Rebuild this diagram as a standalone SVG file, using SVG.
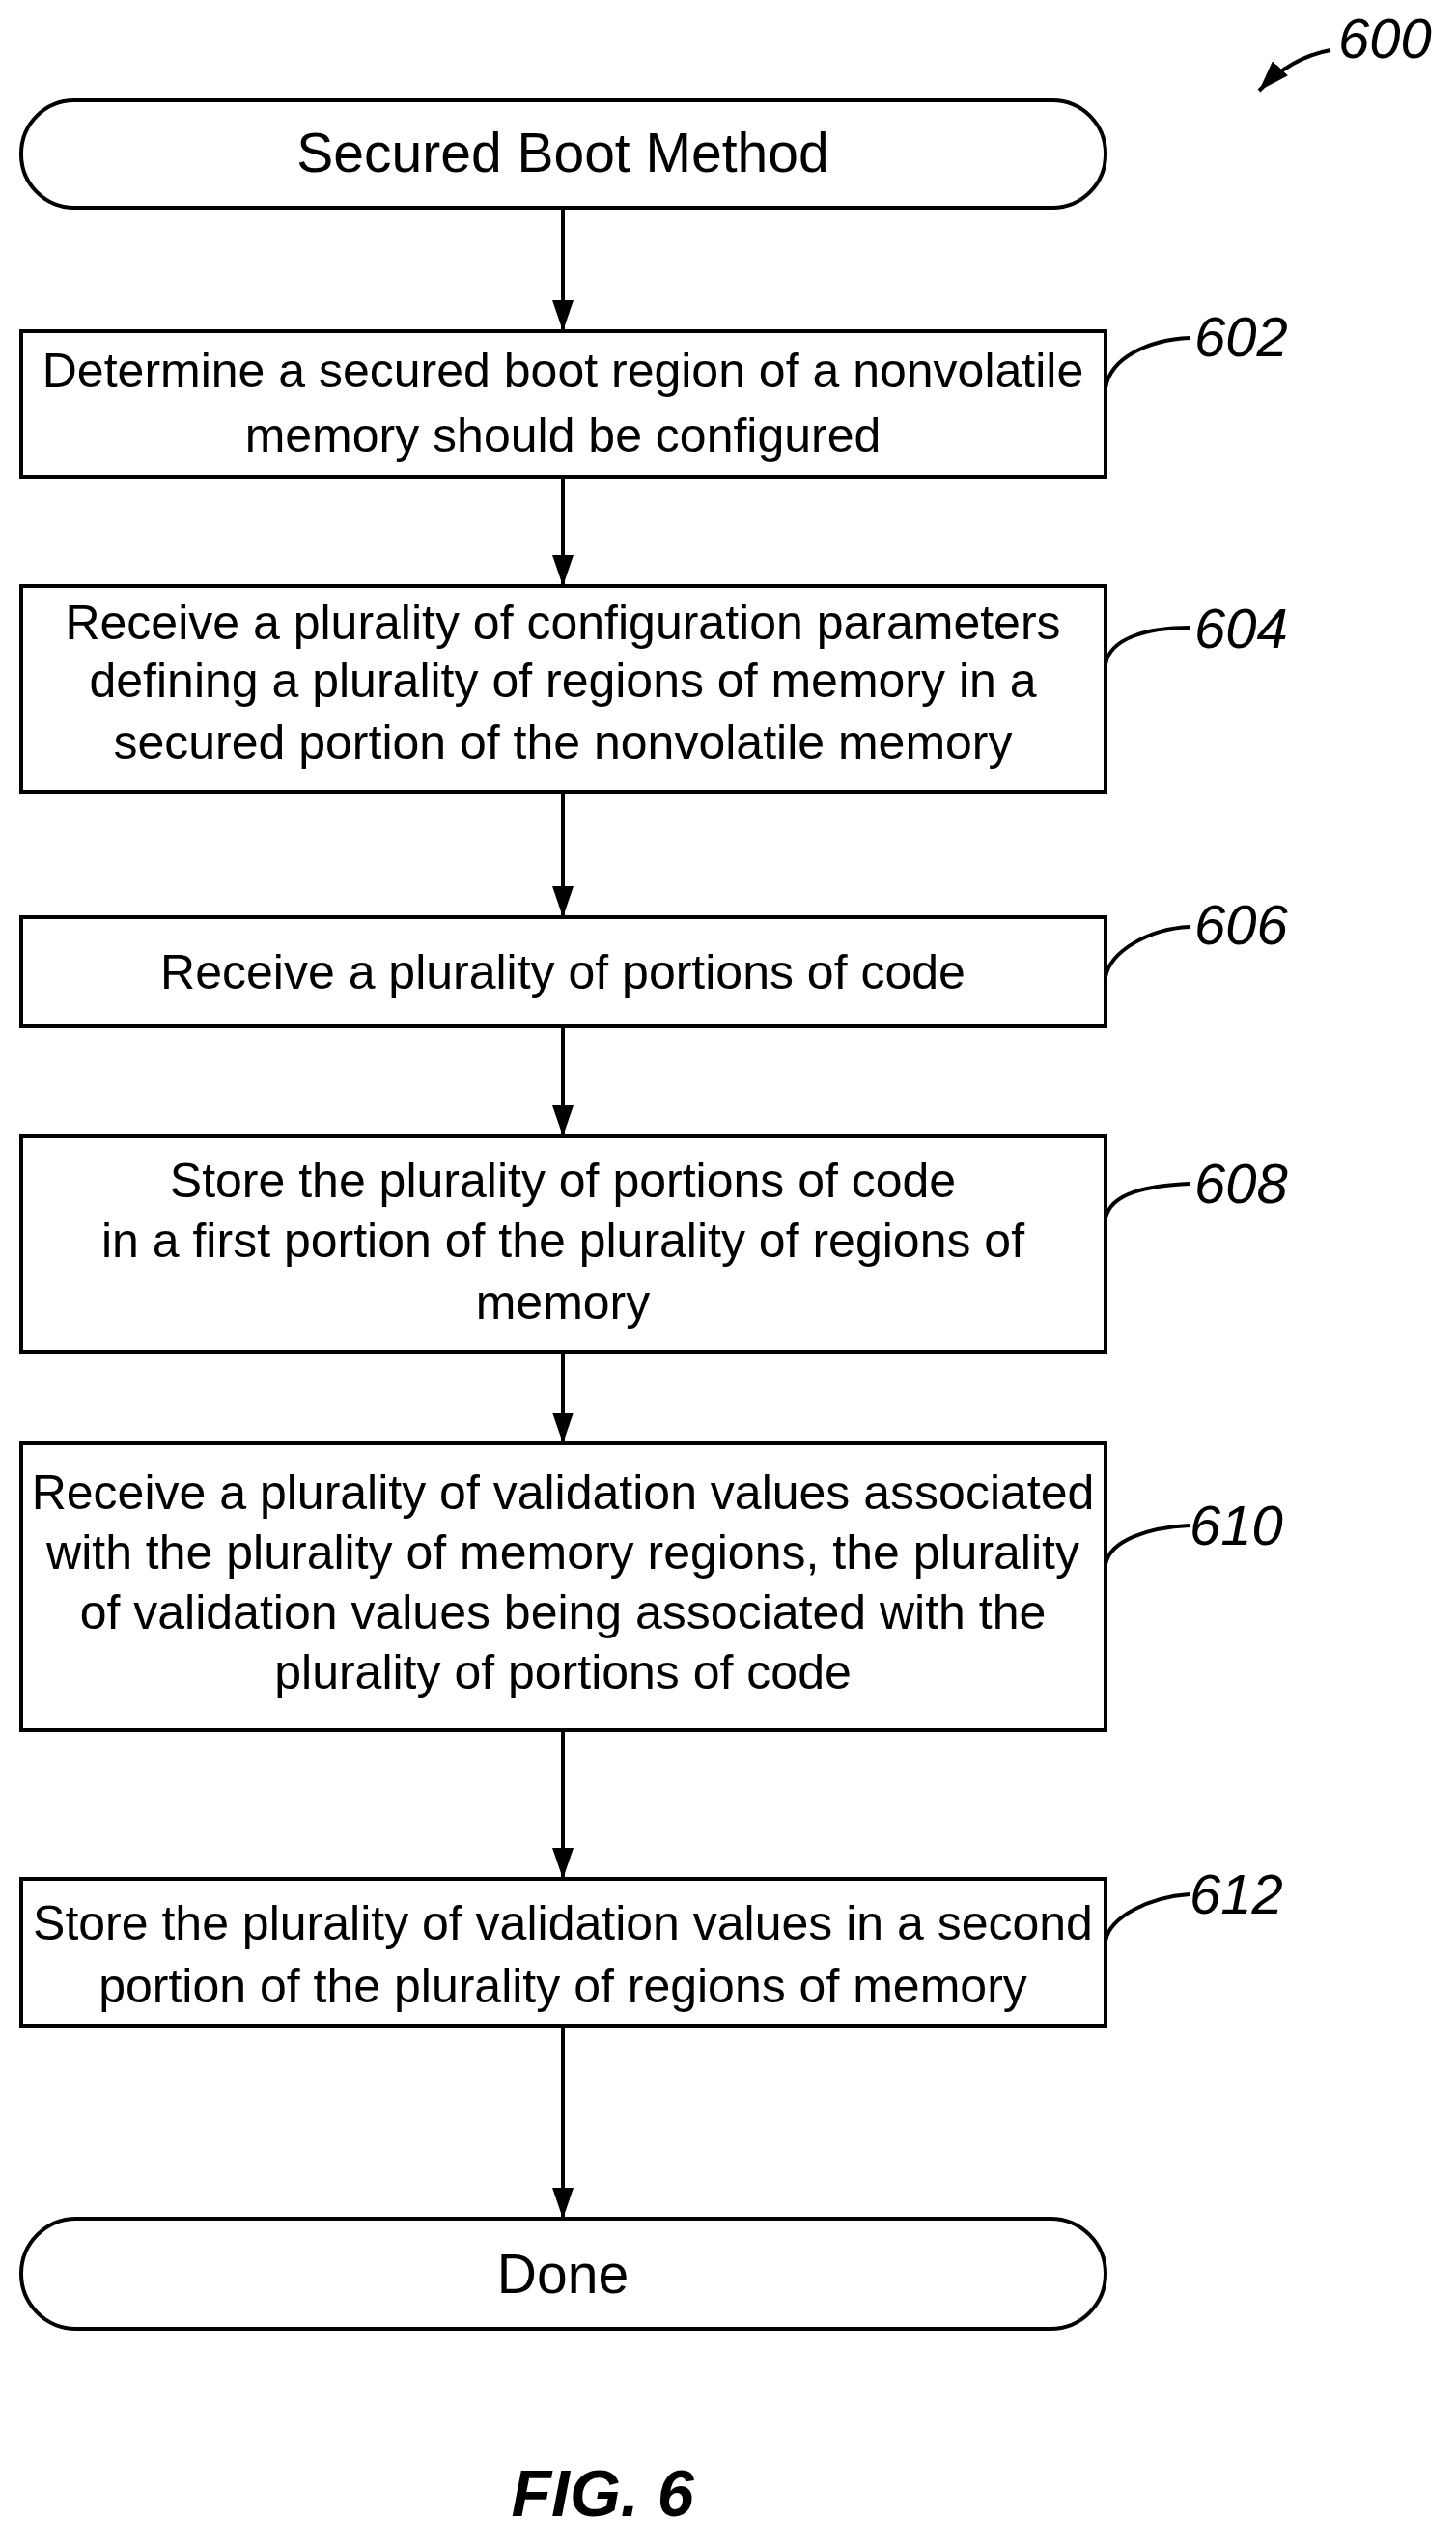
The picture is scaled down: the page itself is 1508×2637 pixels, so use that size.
<svg xmlns="http://www.w3.org/2000/svg" width="1508" height="2637" viewBox="0 0 1508 2637">
<style>
.b{fill:#fff;stroke:#000;stroke-width:4}
.t{font-family:"Liberation Sans",Arial,sans-serif;font-size:50px;text-anchor:middle;fill:#000}
.big{font-size:57px}
.l{font-family:"Liberation Sans",Arial,sans-serif;font-size:58px;font-style:italic;fill:#000}
.c{fill:none;stroke:#000;stroke-width:4}
</style>
<defs>
<marker id="h" viewBox="0 0 10 10" refX="10" refY="5" markerWidth="32" markerHeight="22" orient="auto" markerUnits="userSpaceOnUse" preserveAspectRatio="none"><path d="M0,0 L10,5 L0,10 Z" fill="#000"/></marker></defs>
<g id="connectors">
<path class="c" d="M583,215 V343" marker-end="url(#h)"/>
<path class="c" d="M583,494 V607" marker-end="url(#h)"/>
<path class="c" d="M583,820 V950" marker-end="url(#h)"/>
<path class="c" d="M583,1063 V1177" marker-end="url(#h)"/>
<path class="c" d="M583,1400 V1495" marker-end="url(#h)"/>
<path class="c" d="M583,1792 V1946" marker-end="url(#h)"/>
<path class="c" d="M583,2098 V2298" marker-end="url(#h)"/>
<path class="c" d="M1145,402 C1150,370 1190,352 1232,350"/>
<path class="c" d="M1145,688 C1150,660 1190,650 1232,650"/>
<path class="c" d="M1145,1012 C1150,985 1190,962 1232,960"/>
<path class="c" d="M1145,1262 C1150,1235 1190,1228 1232,1226"/>
<path class="c" d="M1145,1620 C1150,1595 1190,1582 1232,1580"/>
<path class="c" d="M1145,2010 C1150,1985 1190,1965 1232,1962"/>
<path class="c" d="M1378,52 C1345,58 1322,75 1304,94" marker-end="url(#h)"/>
</g>
<g id="label600"><text class="l" x="1386" y="60">600</text></g>
<g id="start"><rect class="b" x="22" y="104" width="1123" height="111" rx="55"/><text class="t big" x="583" y="178">Secured Boot Method</text></g>
<g id="n602"><rect class="b" x="22" y="343" width="1123" height="151"/><text class="t" x="583" y="401">Determine a secured boot region of a nonvolatile</text><text class="t" x="583" y="468">memory should be configured</text><text class="l" x="1237" y="369">602</text></g>
<g id="n604"><rect class="b" x="22" y="607" width="1123" height="213"/><text class="t" x="583" y="662">Receive a plurality of configuration parameters</text><text class="t" x="583" y="722">defining a plurality of regions of memory in a</text><text class="t" x="583" y="786">secured portion of the nonvolatile memory</text><text class="l" x="1237" y="671">604</text></g>
<g id="n606"><rect class="b" x="22" y="950" width="1123" height="113"/><text class="t" x="583" y="1024">Receive a plurality of portions of code</text><text class="l" x="1237" y="978">606</text></g>
<g id="n608"><rect class="b" x="22" y="1177" width="1123" height="223"/><text class="t" x="583" y="1240">Store the plurality of  portions of code</text><text class="t" x="583" y="1302">in a first portion of the plurality of regions of</text><text class="t" x="583" y="1366">memory</text><text class="l" x="1237" y="1246">608</text></g>
<g id="n610"><rect class="b" x="22" y="1495" width="1123" height="297"/><text class="t" x="583" y="1563">Receive a plurality of validation values associated</text><text class="t" x="583" y="1625">with the plurality of memory regions, the plurality</text><text class="t" x="583" y="1687">of validation values being associated with the</text><text class="t" x="583" y="1749">plurality of portions of code</text><text class="l" x="1232" y="1600">610</text></g>
<g id="n612"><rect class="b" x="22" y="1946" width="1123" height="152"/><text class="t" x="583" y="2009">Store the plurality of validation values in a second</text><text class="t" x="583" y="2074">portion of the plurality of regions of memory</text><text class="l" x="1232" y="1982">612</text></g>
<g id="done"><rect class="b" x="22" y="2298" width="1123" height="114" rx="57"/><text class="t big" x="583" y="2375">Done</text></g>
<g id="fig"><text x="624" y="2606" style="font-family:'Liberation Sans',Arial,sans-serif;font-size:68px;font-style:italic;font-weight:bold;text-anchor:middle">FIG. 6</text></g>
</svg>
